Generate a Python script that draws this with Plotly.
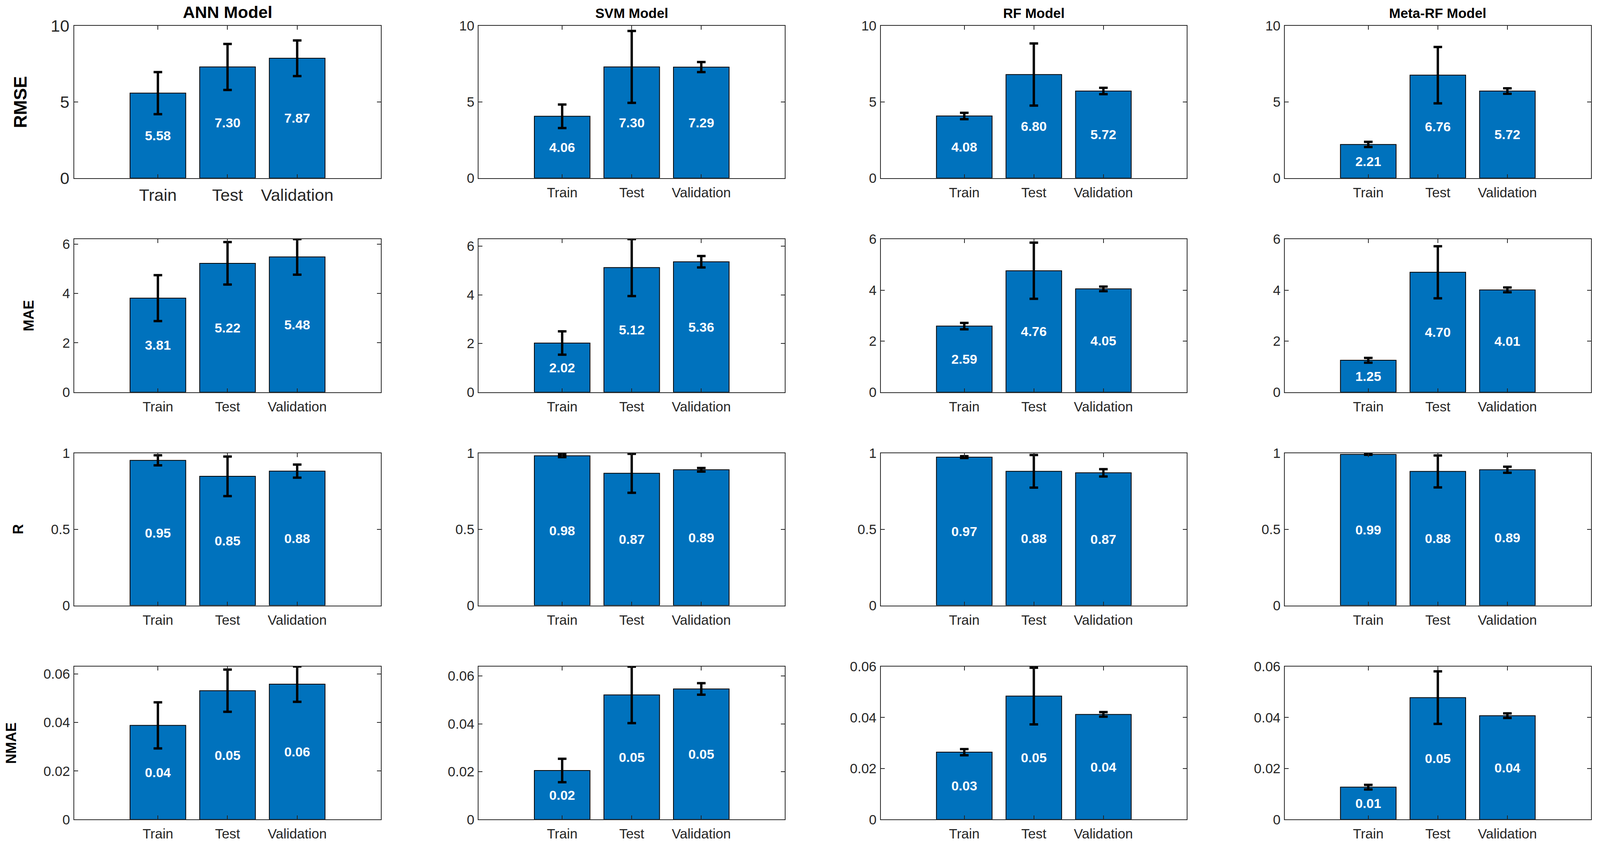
import plotly.graph_objects as go

# ---------------- data ----------------
categories = ["Train", "Test", "Validation"]
models = ["ANN Model", "SVM Model", "RF Model", "Meta-RF Model"]
metrics = ["RMSE", "MAE", "R", "NMAE"]

rmse_ann = [5.58, 7.30, 7.87]
rmse_ann_err = [1.38, 1.51, 1.17]
rmse_svm = [4.06, 7.30, 7.29]
rmse_svm_err = [0.77, 2.36, 0.33]
rmse_rf = [4.08, 6.80, 5.72]
rmse_rf_err = [0.21, 2.04, 0.21]
rmse_meta = [2.21, 6.76, 5.72]
rmse_meta_err = [0.17, 1.85, 0.18]

mae_ann = [3.81, 5.22, 5.48]
mae_ann_err = [0.93, 0.86, 0.72]
mae_svm = [2.02, 5.12, 5.36]
mae_svm_err = [0.48, 1.17, 0.235]
mae_rf = [2.59, 4.76, 4.05]
mae_rf_err = [0.125, 1.10, 0.09]
mae_meta = [1.25, 4.70, 4.01]
mae_meta_err = [0.095, 1.02, 0.095]

r_ann = [0.953, 0.848, 0.882]
r_ann_err = [0.033, 0.13, 0.043]
r_svm = [0.983, 0.868, 0.891]
r_svm_err = [0.009, 0.128, 0.012]
r_rf = [0.974, 0.881, 0.871]
r_rf_err = [0.006, 0.107, 0.024]
r_meta = [0.992, 0.880, 0.891]
r_meta_err = [0.003, 0.105, 0.020]

nmae_ann = [0.0388, 0.0531, 0.0558]
nmae_ann_err = [0.0095, 0.0087, 0.0073]
nmae_svm = [0.0205, 0.0521, 0.0546]
nmae_svm_err = [0.0049, 0.0118, 0.0024]
nmae_rf = [0.0264, 0.0484, 0.0412]
nmae_rf_err = [0.0012, 0.0111, 0.0009]
nmae_meta = [0.0127, 0.0478, 0.0407]
nmae_meta_err = [0.0009, 0.0103, 0.0009]

rmse_ticks = [0, 5, 10]
mae_ticks = [0, 2, 4, 6]
r_ticks = [0, 0.5, 1]
nmae_ticks = [0, 0.02, 0.04, 0.06]

rmse_ylim = [10, 10, 10, 10]
mae_ylim = [6.2, 6.29, 6.0, 6.0]
r_ylim = [1, 1, 1, 1]
nmae_ylim = [0.0631, 0.064, 0.06, 0.06]

values = [
    [rmse_ann, rmse_svm, rmse_rf, rmse_meta],
    [mae_ann, mae_svm, mae_rf, mae_meta],
    [r_ann, r_svm, r_rf, r_meta],
    [nmae_ann, nmae_svm, nmae_rf, nmae_meta],
]
errors = [
    [rmse_ann_err, rmse_svm_err, rmse_rf_err, rmse_meta_err],
    [mae_ann_err, mae_svm_err, mae_rf_err, mae_meta_err],
    [r_ann_err, r_svm_err, r_rf_err, r_meta_err],
    [nmae_ann_err, nmae_svm_err, nmae_rf_err, nmae_meta_err],
]
ticks = [rmse_ticks, mae_ticks, r_ticks, nmae_ticks]
ylims = [rmse_ylim, mae_ylim, r_ylim, nmae_ylim]

# ---------------- layout geometry ----------------
W = 4198


def fy(y):
    # vertical pixel position (from top) -> paper fraction
    return 1 - (y - 23.6) / 2239


x_domains = [(195 / W, 999 / W), (1256 / W, 2059 / W), (2311 / W, 3114 / W), (3371 / W, 4174 / W)]
y_px = [(67, 469), (630, 1034), (1195, 1597), (1758, 2162)]
y_domains = [(fy(b), fy(t)) for (t, b) in y_px]

FONT = "Liberation Sans"
AXC = "#262626"
BAR = "#0072BD"

fig = go.Figure()
layout = dict(
    autosize=True,
    margin=dict(l=0, r=0, t=0, b=0, pad=0),
    paper_bgcolor="white", plot_bgcolor="white",
    showlegend=False, bargap=0.2,
    font=dict(family=FONT, color=AXC),
)
annotations = []

for r in range(4):
    for c in range(4):
        k = r * 4 + c + 1
        sfx = "" if k == 1 else str(k)
        big = (r == 0 and c == 0)
        tsize = 43 if big else 35
        fig.add_trace(go.Bar(
            x=categories, y=values[r][c],
            xaxis="x" + sfx, yaxis="y" + sfx,
            marker=dict(color=BAR, line=dict(color="black", width=2)),
            error_y=dict(type="data", array=errors[r][c], visible=True,
                         color="black", thickness=6, width=11),
            text=[f"{v:.2f}" for v in values[r][c]],
            textposition="inside", insidetextanchor="middle", textangle=0,
            textfont=dict(color="white", size=34, family=FONT, weight="bold"),
            cliponaxis=False,
        ))
        layout["xaxis" + sfx] = dict(
            domain=x_domains[c], anchor="y" + sfx,
            type="category", range=[-1.2, 3.2],
            showline=True, linecolor=AXC, linewidth=2, mirror="ticks",
            ticks="inside", ticklen=10, tickwidth=2, tickcolor=AXC,
            tickfont=dict(family=FONT, size=tsize, color=AXC),
            ticklabelstandoff=5, showgrid=False, zeroline=False,
        )
        layout["yaxis" + sfx] = dict(
            domain=y_domains[r], anchor="x" + sfx,
            range=[0, ylims[r][c]], tickvals=ticks[r],
            showline=True, linecolor=AXC, linewidth=2, mirror="ticks",
            ticks="inside", ticklen=10, tickwidth=2, tickcolor=AXC,
            tickfont=dict(family=FONT, size=tsize, color=AXC),
            ticklabelstandoff=2, showgrid=False, zeroline=False,
        )

# column titles
for c, m in enumerate(models):
    big = (c == 0)
    annotations.append(dict(
        text=m, xref="paper", yref="paper",
        x=sum(x_domains[c]) / 2, y=fy(58 if big else 56),
        xanchor="center", yanchor="bottom", showarrow=False,
        font=dict(family=FONT, size=43 if big else 35, color="black", weight="bold"),
    ))

# row labels
label_x = [53, 76, 48, 29]
for r, m in enumerate(metrics):
    annotations.append(dict(
        text=m, xref="paper", yref="paper",
        x=label_x[r] / W, y=sum(y_domains[r]) / 2,
        xanchor="center", yanchor="middle", textangle=-90, showarrow=False,
        font=dict(family=FONT, size=46 if r == 0 else 36, color="black", weight="bold"),
    ))

layout["annotations"] = annotations
fig.update_layout(**layout)
fig.write_html(
    "out.html",
    config={"displayModeBar": False, "responsive": True},
    default_width="100vw",
    default_height="100vh",
    post_script=(
        "document.documentElement.style.margin='0';"
        "document.body.style.margin='0';"
        "document.body.style.overflow='hidden';"
        "document.documentElement.style.overflow='hidden';"
        "var gd=document.getElementById('{plot_id}');"
        "Plotly.Plots.resize(gd);"
    ),
)
